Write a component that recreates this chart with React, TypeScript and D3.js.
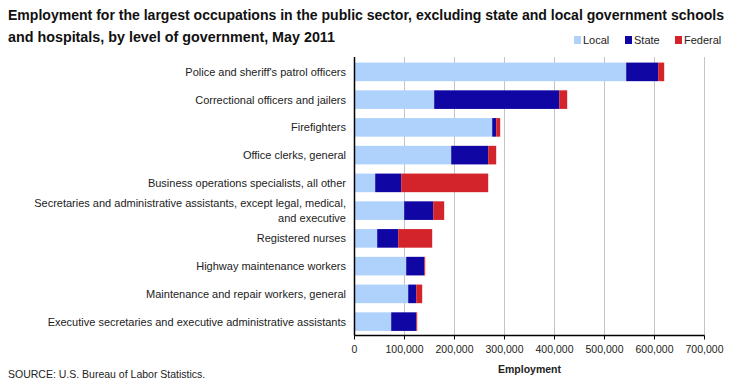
import React from "react";
import * as d3 from "d3";

const categories = [
  ["Police and sheriff's patrol officers"],
  ["Correctional officers and jailers"],
  ["Firefighters"],
  ["Office clerks, general"],
  ["Business operations specialists, all other"],
  ["Secretaries and administrative assistants, except legal, medical,", "and executive"],
  ["Registered nurses"],
  ["Highway maintenance workers"],
  ["Maintenance and repair workers, general"],
  ["Executive secretaries and executive administrative assistants"],
];
const localValues = [543400, 159400, 275400, 193400, 41400, 99400, 45400, 103400, 107400, 73400];
const stateValues = [64000, 250000, 8000, 74000, 52000, 58000, 42000, 36000, 16000, 50000];
const federalValues = [12000, 16000, 8000, 16000, 174000, 22000, 68000, 2000, 12000, 2000];
const seriesNames = ["Local", "State", "Federal"];
const seriesColors = ["#AFD2FC", "#0F06A3", "#D3232B"];
const xTicks = [0, 100000, 200000, 300000, 400000, 500000, 600000, 700000];

const W = 740, H = 386;
const left = 354.5, right = 704.5, top = 58, bottom = 335.5;
const font = "'Liberation Sans', Arial, sans-serif";

export default function App() {
  const x = d3.scaleLinear().domain([0, 700000]).range([left, right]);
  const y = d3.scaleBand<number>().domain(d3.range(categories.length)).range([top, bottom]).paddingInner(0.33).paddingOuter(0.165);
  const rows = categories.map((c, i) => ({ i, Local: localValues[i], State: stateValues[i], Federal: federalValues[i] }));
  const stacked = d3.stack<any>().keys(seriesNames)(rows);
  const fmt = d3.format(",");
  return (
    <svg width={W} height={H} style={{ position: "absolute", left: 0, top: 0, background: "#fff" }} fontFamily={font}>
      <text x={8} y={20} fontSize={14} fontWeight="bold" fill="#111" textLength={716} lengthAdjust="spacingAndGlyphs">Employment for the largest occupations in the public sector, excluding state and local government schools</text>
      <text x={8} y={42} fontSize={14} fontWeight="bold" fill="#111" textLength={327} lengthAdjust="spacingAndGlyphs">and hospitals, by level of government, May 2011</text>
      {seriesNames.map((s, k) => {
        const lx = [574, 625, 675][k];
        return (
          <g key={s}>
            <rect x={lx} y={36} width={7} height={8} fill={seriesColors[k]} />
            <text x={lx + 9} y={44} fontSize={11} fill="#222">{s}</text>
          </g>
        );
      })}
      {xTicks.slice(1).map((t) => (
        <line key={t} x1={x(t)} x2={x(t)} y1={top - 1} y2={bottom} stroke="#c4c4c4" strokeWidth={1} />
      ))}
      {stacked.map((layer, k) => (
        <g key={layer.key} fill={seriesColors[k]}>
          {layer.map((d, i) => (
            <rect key={i} x={x(d[0])} y={y(i)!} width={Math.max(0, x(d[1]) - x(d[0]))} height={y.bandwidth()} />
          ))}
        </g>
      ))}
      <line x1={left} x2={left} y1={top - 1} y2={bottom} stroke="#000" strokeWidth={1.5} />
      <line x1={left} x2={right} y1={bottom} y2={bottom} stroke="#000" strokeWidth={1.5} />
      {xTicks.map((t) => (
        <g key={t}>
          <line x1={x(t)} x2={x(t)} y1={bottom} y2={bottom + 4} stroke="#000" />
          <text x={x(t)} y={353} fontSize={10.5} textAnchor="middle" fill="#222">{fmt(t)}</text>
        </g>
      ))}
      <text x={x(350000)} y={373} fontSize={10.5} fontWeight="bold" textAnchor="middle" fill="#222">Employment</text>
      {categories.map((lines, i) => {
        const cy = y(i)! + y.bandwidth() / 2;
        const n = lines.length;
        return (
          <text key={i} x={346} fontSize={11} textAnchor="end" fill="#222">
            {lines.map((ln, j) => (
              <tspan key={j} x={346} y={cy + 4 + (j - (n - 1) / 2) * 15}>{ln}</tspan>
            ))}
          </text>
        );
      })}
      <text x={8} y={378} fontSize={10.5} fill="#222">SOURCE: U.S. Bureau of Labor Statistics.</text>
    </svg>
  );
}
